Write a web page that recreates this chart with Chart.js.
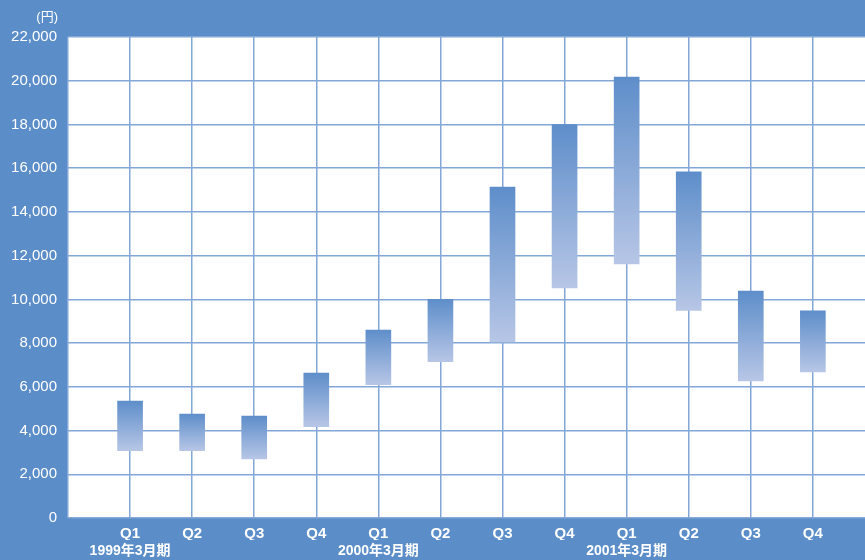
<!DOCTYPE html>
<html>
<head>
<meta charset="utf-8">
<script src="https://cdn.jsdelivr.net/npm/chart.js@4/dist/chart.umd.min.js"></script>
<style>
  html, body { margin: 0; padding: 0; background: #5b8dc8; }
  #wrap { position: relative; width: 865px; height: 560px; }
  #unit {
    position: absolute; top: 9px; left: 30px; width: 28px; text-align: right;
    color: #fff; font: 13px "Liberation Sans", "Noto Sans CJK JP", sans-serif; line-height: 16px;
  }
</style>
</head>
<body>
<div id="wrap">
  <div id="unit">(円)</div>
  <canvas id="priceChart" width="865" height="560"></canvas>
</div>
<script>
// quarter labels and fiscal period labels (shown under each Q1)
const quarters = ["Q1", "Q2", "Q3", "Q4", "Q1", "Q2", "Q3", "Q4", "Q1", "Q2", "Q3", "Q4"];
const periods = ["1999年3月期", "", "", "", "2000年3月期", "", "", "", "2001年3月期", "", "", ""];

// price range per quarter (yen)
const lows  = [3080, 3080, 2700, 4180, 6100, 7150, 8050, 10520, 11620, 9500, 6270, 6680];
const highs = [5350, 4750, 4660, 6630, 8600, 10000, 15140, 17990, 20170, 15830, 10380, 9470];

const yTicks = [0, 2000, 4000, 6000, 8000, 10000, 12000, 14000, 16000, 18000, 20000, 22000];

const fontFamily = '"Liberation Sans", "Noto Sans CJK JP", sans-serif';
const gridColor = "#82a7d8";

document.addEventListener("DOMContentLoaded", function() {
    const ctx = document.getElementById("priceChart").getContext("2d");

    // white plot area on the blue page
    const plotBackground = {
        id: "plotBackground",
        beforeDraw(chart) {
            const { ctx, chartArea } = chart;
            ctx.save();
            ctx.fillStyle = "#ffffff";
            ctx.fillRect(chartArea.left, chartArea.top, chartArea.right - chartArea.left, chartArea.bottom - chartArea.top);
            ctx.restore();
        }
    };

    function barGradient(context) {
        const chart = context.chart;
        if (!chart.chartArea || !context.raw) return "#7a9fd4";
        const y = chart.scales.y;
        const top = y.getPixelForValue(context.raw.y[1]);
        const bottom = y.getPixelForValue(context.raw.y[0]);
        const g = chart.ctx.createLinearGradient(0, top, 0, bottom);
        g.addColorStop(0, "#5e8eca");
        g.addColorStop(1, "#b7c6e6");
        return g;
    }

    const quarterTicks = () => [{ value: 0 }].concat(quarters.map((q, i) => ({ value: i + 1 })));

    new Chart(ctx, {
        type: "bar",
        data: {
            datasets: [{
                data: quarters.map((q, i) => ({ x: i + 1, y: [lows[i], highs[i]] })),
                backgroundColor: barGradient,
                borderWidth: 0,
                barThickness: 25
            }]
        },
        options: {
            responsive: false,
            animation: false,
            layout: { padding: { top: 37, right: 0, left: 0, bottom: 0 } },
            plugins: {
                legend: { display: false },
                tooltip: { enabled: false }
            },
            scales: {
                x: {
                    type: "linear",
                    min: 0,
                    max: 12.84,
                    offset: false,
                    weight: 0,
                    grid: { offset: false, color: gridColor, lineWidth: 1.5, drawTicks: false },
                    border: { display: false },
                    afterBuildTicks(axis) { axis.ticks = quarterTicks(); },
                    afterFit(axis) { axis.height = 22; },
                    ticks: {
                        autoSkip: false,
                        maxRotation: 0,
                        padding: 7,
                        color: "#ffffff",
                        font: { family: fontFamily, size: 15, weight: "bold", lineHeight: 1.2 },
                        callback(value) {
                            const i = value - 1;
                            return i >= 0 && i < quarters.length ? quarters[i] : "";
                        }
                    }
                },
                x2: {
                    type: "linear",
                    position: "bottom",
                    min: 0,
                    max: 12.84,
                    offset: false,
                    weight: 1,
                    grid: { display: false, drawTicks: false },
                    border: { display: false },
                    afterBuildTicks(axis) { axis.ticks = quarterTicks(); },
                    afterFit(axis) { axis.height = 20; },
                    ticks: {
                        autoSkip: false,
                        maxRotation: 0,
                        padding: 3,
                        color: "#ffffff",
                        font: { family: fontFamily, size: 14, weight: "bold", lineHeight: 1.2 },
                        callback(value) {
                            const i = value - 1;
                            return i >= 0 && i < periods.length ? periods[i] : "";
                        }
                    }
                },
                y: {
                    min: 0,
                    max: 22000,
                    grid: { color: gridColor, lineWidth: 1.5, drawTicks: false },
                    border: { display: false },
                    afterBuildTicks(axis) {
                        axis.ticks = yTicks.map(v => ({ value: v }));
                    },
                    afterFit(axis) { axis.width = 68; },
                    ticks: {
                        padding: 11,
                        color: "#ffffff",
                        font: { family: fontFamily, size: 15 },
                        callback: value => value.toLocaleString("en-US")
                    }
                }
            }
        },
        plugins: [plotBackground]
    });
});
</script>
</body>
</html>
